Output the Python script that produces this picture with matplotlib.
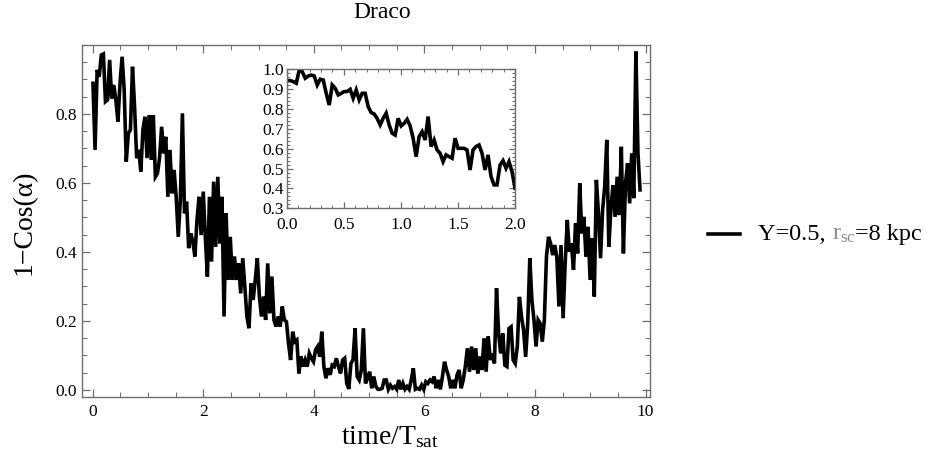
import numpy as np
import matplotlib
matplotlib.use("Agg")
from matplotlib import pyplot as plt
from matplotlib.ticker import MultipleLocator, FormatStrFormatter

plt.rcParams['font.family'] = ['Liberation Serif', 'DejaVu Serif']
plt.rcParams['mathtext.fontset'] = 'stix'

# 1 - cos(alpha) for Draco over ten satellite periods
draco_y = [
    0.889, 0.696, 0.928, 0.908, 0.971, 0.974, 0.836, 0.841, 0.957, 0.845,
    0.884, 0.841, 0.778, 0.889, 0.966, 0.870, 0.662, 0.744, 0.754, 0.937,
    0.821, 0.672, 0.696, 0.633, 0.754, 0.792, 0.672, 0.797, 0.667, 0.797,
    0.618, 0.628, 0.672, 0.763, 0.686, 0.734, 0.560, 0.696, 0.570, 0.638,
    0.560, 0.444, 0.551, 0.802, 0.512,
    0.546, 0.411, 0.454, 0.430, 0.387, 0.493, 0.560, 0.449, 0.575, 0.444,
    0.329, 0.560, 0.372, 0.604, 0.415, 0.618, 0.425, 0.560, 0.213, 0.512,
    0.319, 0.444, 0.319, 0.387, 0.319, 0.367, 0.280, 0.382, 0.300, 0.213,
    0.179, 0.309, 0.261, 0.319, 0.382, 0.271, 0.213, 0.271, 0.203, 0.367,
    0.222, 0.329, 0.203, 0.184, 0.213, 0.184,
    0.242, 0.203, 0.198, 0.135, 0.087, 0.169, 0.140, 0.145, 0.048, 0.097,
    0.068, 0.087, 0.068, 0.106, 0.092, 0.082, 0.116, 0.126, 0.097, 0.169,
    0.068, 0.034, 0.063, 0.044, 0.072, 0.068, 0.092, 0.068, 0.048, 0.087,
    0.092, 0.019, 0.003, 0.077, 0.087, 0.179, 0.039, 0.029, 0.058, 0.179,
    0.019, 0.034, 0.053, 0.005, 0.039, 0.010, 0.002, 0.002, 0.005, 0.029,
    0.029, 0.002, 0.014, 0.005, 0.010, 0.002, 0.029, 0.002, 0.019, 0.002,
    0.010, 0.002, 0.029, 0.063, 0.002, 0.005, 0.002, 0.014, 0.002, 0.024,
    0.019, 0.029, 0.024, 0.039, 0.005, 0.029, 0.002, 0.039, 0.082, 0.058,
    0.039, 0.005, 0.029, 0.005, 0.043, 0.058, 0.005, 0.029, 0.068, 0.121,
    0.053, 0.126, 0.058, 0.121, 0.048, 0.097, 0.058, 0.150,
    0.053, 0.155, 0.087, 0.106, 0.077, 0.295, 0.164, 0.106, 0.164, 0.072,
    0.068, 0.178, 0.183, 0.087, 0.077, 0.126, 0.270, 0.213, 0.174, 0.096,
    0.193, 0.382, 0.261, 0.203, 0.126, 0.203, 0.193, 0.140, 0.203, 0.386,
    0.444, 0.425, 0.391, 0.420, 0.386, 0.242, 0.420, 0.208, 0.367, 0.493,
    0.401, 0.425, 0.348, 0.483, 0.396,
    0.599, 0.454, 0.502, 0.386, 0.473, 0.319, 0.440, 0.271, 0.609, 0.512,
    0.382, 0.522, 0.589, 0.725, 0.415, 0.527, 0.594, 0.502, 0.618, 0.507,
    0.705, 0.396, 0.599, 0.657, 0.541, 0.686, 0.556, 0.981, 0.686, 0.580,
]
draco_t = np.linspace(0.005, 9.90, len(draco_y))

# first two periods, shown in the inset
inset_y = [
    0.943, 0.943, 0.938, 0.930, 0.997, 0.988, 0.955, 0.966, 0.971, 0.966,
    0.921, 0.950, 0.946, 0.879, 0.820, 0.921, 0.904, 0.871, 0.879, 0.888,
    0.888, 0.899, 0.854, 0.896, 0.846, 0.879, 0.879, 0.812, 0.782, 0.775,
    0.753, 0.720, 0.753, 0.779, 0.720, 0.678, 0.669, 0.753, 0.715, 0.728,
    0.748, 0.715, 0.653, 0.560, 0.661, 0.686, 0.644, 0.762, 0.611, 0.644,
    0.594, 0.577, 0.535, 0.569, 0.560, 0.552, 0.653, 0.602, 0.602, 0.602,
    0.594, 0.493, 0.594, 0.611, 0.619, 0.577, 0.493, 0.569, 0.460, 0.418,
    0.418, 0.518, 0.540, 0.502, 0.535, 0.485, 0.401,
]
inset_t = np.linspace(0.005, 2.0, len(inset_y))

legend_label = ["Y=0.5, ", r"$\mathregular{r_{sc}}$", "=8 kpc"]

W, H = 936, 461
fig = plt.figure(figsize=(W / 100, H / 100), dpi=100)

frame = '#6e6e6e'


def style(ax, size):
    for s in ax.spines.values():
        s.set_color(frame)
        s.set_linewidth(1.0)
    ax.tick_params(which='both', direction='in', top=True, right=True,
                   color=frame, labelsize=size, labelcolor='black')
    ax.tick_params(which='major', length=6, width=0.9)
    ax.tick_params(which='minor', length=3.5, width=0.7)


ax = fig.add_axes([81.7 / W, 1 - 397 / H, (650 - 81.7) / W, (397 - 45) / H])
ax.plot(draco_t, draco_y, color='black', lw=2.6, solid_joinstyle='miter')
ax.set_xlim(-0.199, 10.08)
ax.set_ylim(-0.0203, 1.0)
ax.xaxis.set_major_locator(MultipleLocator(2))
ax.xaxis.set_minor_locator(MultipleLocator(0.5))
ax.yaxis.set_minor_locator(MultipleLocator(0.05))
ax.set_yticks([0.0, 0.2, 0.4, 0.6, 0.8])
ax.yaxis.set_major_formatter(FormatStrFormatter('%.1f'))
style(ax, 12.5)
ax.tick_params(axis='x', pad=5)

fig.text(390 / W, 1 - 438 / H, r"time/T$_{\mathregular{sat}}$", fontsize=20,
         ha='center', va='center')
fig.text(24 / W, 1 - 222 / H, "1\u2212Cos(\u03b1)", fontsize=20, rotation=90,
         ha='center', va='center')
fig.text(382 / W, 1 - 13 / H, "Draco", fontsize=17, ha='center', va='center')

ins = fig.add_axes([286.7 / W, 1 - 208.3 / H, (515 - 286.7) / W, (208.3 - 69.3) / H])
ins.plot(inset_t, inset_y, color='black', lw=2.6, solid_joinstyle='miter')
ins.set_xlim(0, 2.0)
ins.set_ylim(0.3, 1.0)
ins.xaxis.set_major_locator(MultipleLocator(0.5))
ins.xaxis.set_minor_locator(MultipleLocator(0.1))
ins.yaxis.set_major_locator(MultipleLocator(0.1))
ins.yaxis.set_minor_locator(MultipleLocator(0.02))
ins.xaxis.set_major_formatter(FormatStrFormatter('%.1f'))
ins.yaxis.set_major_formatter(FormatStrFormatter('%.1f'))
style(ins, 12.5)
ins.tick_params(which='major', length=4)
ins.tick_params(which='minor', length=2)
ins.tick_params(axis='y', pad=2)
ins.tick_params(axis='x', pad=6)

# legend drawn by hand so the r_sc part can be grey
ly = 1 - 234 / H
fig.add_artist(plt.Line2D([708 / W, 740 / W], [ly, ly], color='black', lw=2.6))
t1 = fig.text(758 / W, ly, legend_label[0], fontsize=17.5, va='center', ha='left')
t2 = ax.annotate(legend_label[1], xy=(1, 0.5), xycoords=t1, va='center',
                 ha='left', fontsize=17.5, color='#8c8c8c', annotation_clip=False)
t3 = ax.annotate(legend_label[2], xy=(1, 0.5), xycoords=t2, va='center',
                 ha='left', fontsize=17.5, color='black', annotation_clip=False)

fig.savefig('out.png', dpi=100)
